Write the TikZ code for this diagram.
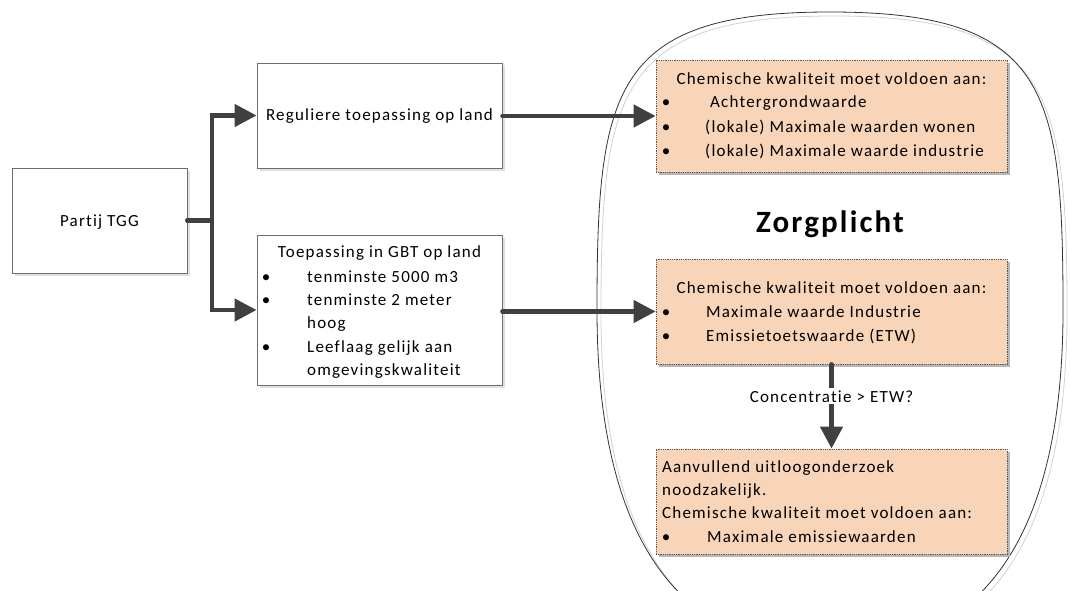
\documentclass[tikz,border=0pt]{standalone}
\usepackage{fontspec}
\setmainfont{Carlito}[LetterSpace=7,Ligatures=NoCommon]
\usetikzlibrary{arrows.meta,shadows}
\definecolor{arrowgray}{HTML}{404040}
\definecolor{peach}{HTML}{F8D5B8}
\definecolor{boxline}{HTML}{6E6E6E}
\begin{document}
\begin{tikzpicture}[x=1pt,y=-1pt,
  every node/.style={font=\fontsize{17}{24}\selectfont},
  wbox/.style={draw=boxline,line width=0.9pt,fill=white,inner sep=0pt,
    drop shadow={shadow xshift=2.5pt,shadow yshift=-2.5pt,fill=black!12,opacity=1}},
  obox/.style={draw=black!65,densely dotted,line width=0.8pt,fill=peach,inner sep=0pt,
    drop shadow={shadow xshift=3pt,shadow yshift=-3pt,fill=black!28,opacity=1}},
  txt/.style={inner sep=0pt,anchor=base west},
  ctxt/.style={inner sep=0pt,anchor=base},
  bul/.style={inner sep=0pt,anchor=base},
  flow/.style={draw=arrowgray,line width=4.5pt,line cap=round,-{Triangle[length=22pt,width=22pt]}},
  lbl/.style={fill=white,inner sep=2pt,anchor=base}
]
\useasboundingbox (0,0) rectangle (1070,591);

% Zorgplicht outline
\begin{scope}
\clip (0,0) rectangle (1070,591);
\draw[black!18,line width=0.8pt,shift={(4,4)}]
  (597,310) .. controls (597,90) and (612,12) .. (830,12)
  .. controls (1048,12) and (1063,90) .. (1063,310)
  .. controls (1063,540) and (980,650) .. (830,650)
  .. controls (680,650) and (597,540) .. (597,310) -- cycle;
\draw[black!80,line width=0.8pt]
  (597,310) .. controls (597,90) and (612,12) .. (830,12)
  .. controls (1048,12) and (1063,90) .. (1063,310)
  .. controls (1063,540) and (980,650) .. (830,650)
  .. controls (680,650) and (597,540) .. (597,310) -- cycle;
\end{scope}

% boxes
\node[wbox,minimum width=175pt,minimum height=105pt] (partij) at (99.5,220.5) {};
\node[wbox,minimum width=245pt,minimum height=105pt] (reg) at (379.5,115.5) {};
\node[wbox,minimum width=245pt,minimum height=150pt] (gbt) at (379.5,310) {};
\node[obox,minimum width=351pt,minimum height=112pt] (box1) at (831.5,116) {};
\node[obox,minimum width=351pt,minimum height=105pt] (box2) at (831.5,311.5) {};
\node[obox,minimum width=351pt,minimum height=105pt] (box3) at (831.5,501.5) {};

% texts
\node[ctxt] (tpartij) at (99.5,226) {Partij TGG};
\node[ctxt] (treg) at (379.5,121) {Reguliere toepassing op land};

\node[ctxt] (tgbt) at (379.5,257) {Toepassing in GBT op land};
\node[bul] (gb1) at (266,282) {•};
\node[txt] (gt1) at (307,282) {tenminste 5000 m3};
\node[bul] (gb2) at (266,305) {•};
\node[txt] (gt2) at (307,305) {tenminste 2 meter};
\node[txt] (gt2b) at (307,328) {hoog};
\node[bul] (gb3) at (266,352) {•};
\node[txt] (gt3) at (307,352) {Leeflaag gelijk aan};
\node[txt] (gt3b) at (307,375) {omgevingskwaliteit};

\node[ctxt] (t1) at (831.5,85) {Chemische kwaliteit moet voldoen aan:};
\node[bul] (b11) at (666,108) {•};
\node[txt] (t11) at (710,108) {Achtergrondwaarde};
\node[bul] (b12) at (666,132) {•};
\node[txt] (t12) at (705,132) {(lokale) Maximale waarden wonen};
\node[bul] (b13) at (666,156) {•};
\node[txt] (t13) at (705,156) {(lokale) Maximale waarde industrie};

\node[ctxt] (t2) at (831.5,293) {Chemische kwaliteit moet voldoen aan:};
\node[bul] (b21) at (666,317) {•};
\node[txt] (t21) at (706,317) {Maximale waarde Industrie};
\node[bul] (b22) at (666,341) {•};
\node[txt] (t22) at (706,341) {Emissietoetswaarde (ETW)};

\node[txt] (t3a) at (662,472) {Aanvullend uitloogonderzoek};
\node[txt] (t3b) at (662,495) {noodzakelijk.};
\node[txt] (t3c) at (662,518) {Chemische kwaliteit moet voldoen aan:};
\node[bul] (b31) at (666,542) {•};
\node[txt] (t31) at (707,542) {Maximale emissiewaarden};

\node[ctxt,font=\fontsize{31}{37}\selectfont\bfseries] (zorg) at (830,232) {Zorgplicht};

% connectors
\coordinate (branch) at (212,220.5);
\draw[flow] (partij.east) -- (branch) |- (reg.west);
\draw[flow] (partij.east) -- (branch) |- (gbt.west);
\draw[flow] (reg.east |- box1.west) -- (box1.west);
\draw[flow] (gbt.east |- box2.west) -- (box2.west);
\draw[flow] (box2.south) -- (box3.north);
\node[lbl] (cond) at (831.5,402) {Concentratie > ETW?};
\end{tikzpicture}
\end{document}
